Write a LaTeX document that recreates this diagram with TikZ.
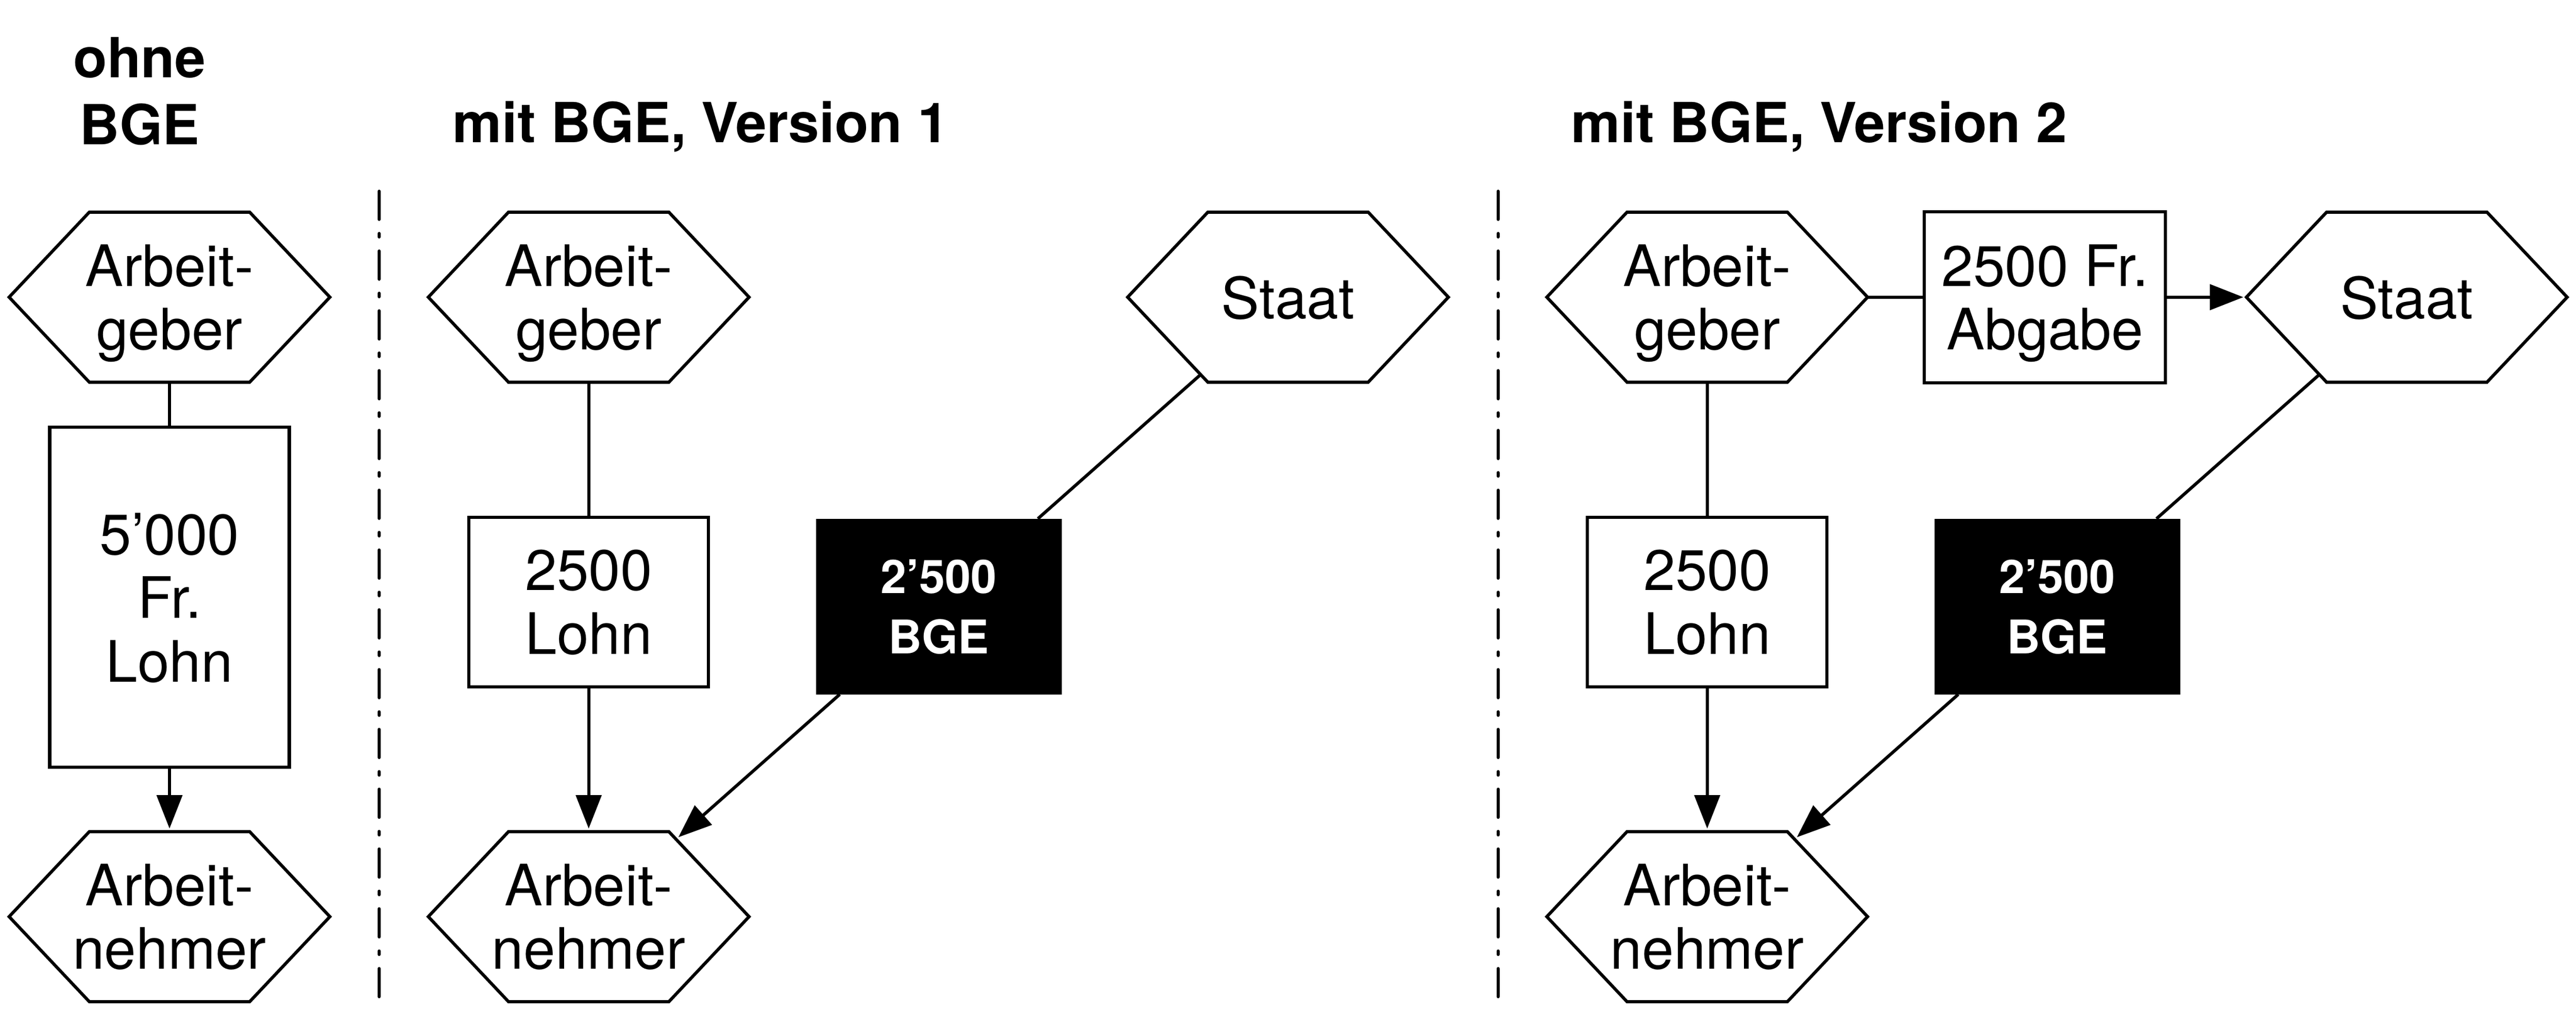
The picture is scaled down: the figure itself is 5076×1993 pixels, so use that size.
\documentclass[tikz,border=0pt]{standalone}
\usepackage{fontspec}
\setmainfont{TeX Gyre Heros}
\usepackage{tikz}
\usetikzlibrary{shapes.geometric,arrows.meta}

\begin{document}
\begin{tikzpicture}[x=0.05mm, y=-0.05mm, line width=0.88pt,
	hexa/.style={draw, regular polygon, regular polygon sides=6, minimum size=10mm, inner sep=0pt, outer sep=0pt, xscale=3.16, yscale=1.934, transform shape},
	txt/.style={align=center, inner sep=0pt, text depth=0pt, font=\fontsize{16}{17.8}\selectfont},
	feld/.style={draw, rectangle, minimum width=23.6mm, minimum height=16.7mm, inner sep=0pt, align=center, text depth=0pt, font=\fontsize{16}{17.8}\selectfont},
	bge/.style={feld, fill=black, text=white, minimum width=23.9mm, minimum height=17mm, font=\fontsize{13}{16.8}\selectfont\bfseries},
	titel/.style={inner sep=0pt, text depth=0pt, font=\fontsize{15.5}{18.9}\selectfont\bfseries},
	pfeil/.style={-{Triangle[length=3.3mm, width=2.5mm]}, shorten >=0.3mm},
	trenner/.style={line width=0.95pt, line cap=round, dash pattern=on 2.75mm off 1.41mm on 0.32mm off 1.41mm}]
	    \useasboundingbox (0,0) rectangle (5076,1993);

	    \node[titel, align=center] (t1) at (275,179) {ohne\\BGE};
	    \node[titel, anchor=base west] (t2) at (889,281) {mit BGE, Version 1};
	    \node[titel, anchor=base west] (t3) at (3093,281) {mit BGE, Version 2};

	    \draw[trenner] (747,377) -- (747,1977);
	    \draw[trenner] (2952,377) -- (2952,1977);

	    \node[hexa] (ag1) at (334,585.5) {};
	    \node[txt] (ag1t) at (ag1) {Arbeit-\\geber};
	    \node[feld, minimum height=33.5mm] (lohn1) at (334,1177) {5’000\\Fr.\\Lohn};
	    \node[hexa] (an1) at (334,1806) {};
	    \node[txt] (an1t) at (an1) {Arbeit-\\nehmer};

	    \node[hexa] (ag2) at (1160,585.5) {};
	    \node[txt] (ag2t) at (ag2) {Arbeit-\\geber};
	    \node[feld] (lohn2) at (1160,1186) {2500\\Lohn};
	    \node[hexa] (an2) at (1160,1806) {};
	    \node[txt] (an2t) at (an2) {Arbeit-\\nehmer};
	    \node[hexa] (staat2) at (2538,585.5) {};
	    \node[txt] (staat2t) at (staat2) {Staat};
	    \node[bge] (bge2) at (1850,1195) {2’500\\BGE};

	    \node[hexa] (ag3) at (3364,585.5) {};
	    \node[txt] (ag3t) at (ag3) {Arbeit-\\geber};
	    \node[feld, minimum width=23.75mm, minimum height=16.85mm] (abg3) at (4029.5,585.5) {2500 Fr.\\Abgabe};
	    \node[hexa] (staat3) at (4742.5,585.5) {};
	    \node[txt] (staat3t) at (staat3) {Staat};
	    \node[feld] (lohn3) at (3364,1186) {2500\\Lohn};
	    \node[hexa] (an3) at (3364,1806) {};
	    \node[txt] (an3t) at (an3) {Arbeit-\\nehmer};
	    \node[bge] (bge3) at (4054,1195) {2’500\\BGE};

	    \draw (ag1) -- (lohn1);
	    \draw[pfeil] (lohn1) -- (an1);
	    \draw (ag2) -- (lohn2);
	    \draw[pfeil] (lohn2) -- (an2);
	    \draw (staat2) -- (bge2);
	    \draw[pfeil] (bge2) -- (an2);
	    \draw (ag3) -- (abg3);
	    \draw[pfeil] (abg3) -- (staat3);
	    \draw (ag3) -- (lohn3);
	    \draw[pfeil] (lohn3) -- (an3);
	    \draw (staat3) -- (bge3);
	    \draw[pfeil] (bge3) -- (an3);
\end{tikzpicture}
\end{document}
